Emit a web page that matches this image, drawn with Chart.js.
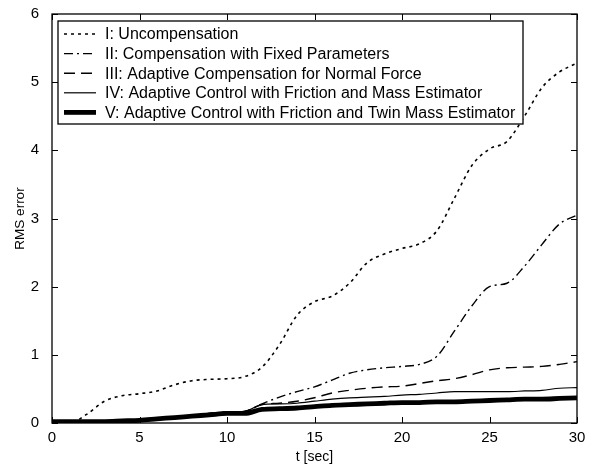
<!DOCTYPE html>
<html><head><meta charset="utf-8">
<script src="https://cdn.jsdelivr.net/npm/chart.js@4.4.1/dist/chart.umd.min.js"></script>
<style>html,body{margin:0;padding:0;background:#fff}#wrap{width:593px;height:468px}</style>
</head><body><div id="wrap"><canvas id="c" width="593" height="468"></canvas></div>
<script>
const timeSec = [0,1,2,3,4,5,6,7,8,9,10,11,12,13,14,15,16,17,18,19,20,21,22,23,24,25,26,27,28,29,30];
const seriesLabels = [
  "I: Uncompensation",
  "II: Compensation with Fixed Parameters",
  "III: Adaptive Compensation for Normal Force",
  "IV: Adaptive Control with Friction and Mass Estimator",
  "V: Adaptive Control with Friction and Twin Mass Estimator"
];
const uncompensation = [0,0,0.13,0.32,0.40,0.43,0.47,0.56,0.62,0.64,0.65,0.68,0.82,1.15,1.58,1.78,1.86,2.05,2.35,2.48,2.56,2.63,2.82,3.30,3.78,4.02,4.13,4.50,4.92,5.15,5.28];
const fixedParams    = [0,0,0.01,0.02,0.02,0.03,0.05,0.08,0.11,0.14,0.16,0.17,0.28,0.38,0.46,0.53,0.63,0.73,0.78,0.81,0.83,0.86,0.98,1.35,1.72,2.00,2.05,2.30,2.62,2.92,3.05];
const normalForce    = [0,0,0.01,0.02,0.02,0.03,0.05,0.08,0.11,0.14,0.16,0.17,0.27,0.29,0.32,0.37,0.44,0.48,0.51,0.53,0.54,0.58,0.62,0.65,0.71,0.78,0.81,0.82,0.83,0.86,0.90];
const massEstimator  = [0,0,0.01,0.02,0.02,0.03,0.05,0.08,0.11,0.14,0.16,0.17,0.27,0.28,0.29,0.32,0.35,0.37,0.38,0.39,0.41,0.42,0.44,0.46,0.46,0.46,0.46,0.47,0.48,0.51,0.52];
const twinMass       = [0.02,0.02,0.02,0.02,0.03,0.04,0.06,0.08,0.10,0.12,0.14,0.14,0.20,0.21,0.22,0.24,0.26,0.27,0.28,0.29,0.30,0.30,0.31,0.31,0.32,0.33,0.34,0.35,0.35,0.36,0.37];
const xTickValues = [0,5,10,15,20,25,30];
const yTickValues = [0,1,2,3,4,5,6];

const FONT = "'Liberation Sans', Arial, sans-serif";
const allSeries = [uncompensation, fixedParams, normalForce, massEstimator, twinMass];
const dashes = [[3,4],[9,4,2,4],[11,6],[],[]];
const widths = [1.6,1.4,1.4,1.2,4.8];

const datasets = allSeries.map((vals,i)=>({
  label: seriesLabels[i],
  data: timeSec.map((t,j)=>({x:t,y:vals[j]})),
  borderColor:'#000', backgroundColor:'#000',
  borderWidth: widths[i], borderDash: dashes[i],
  pointRadius:0, cubicInterpolationMode:'monotone', fill:false
}));

const framePlugin = {
  id:'frame',
  afterDatasetsDraw(chart){
    const {ctx, chartArea:a, scales:{x,y}} = chart;
    ctx.save();
    ctx.strokeStyle='#000'; ctx.lineWidth=1.3; ctx.setLineDash([]);
    ctx.strokeRect(a.left, a.top, a.right-a.left, a.bottom-a.top);
    ctx.lineWidth=1;
    xTickValues.forEach(v=>{
      const px=Math.round(x.getPixelForValue(v))+0.5;
      ctx.beginPath(); ctx.moveTo(px,a.bottom); ctx.lineTo(px,a.bottom-6);
      ctx.moveTo(px,a.top); ctx.lineTo(px,a.top+6); ctx.stroke();
    });
    yTickValues.forEach(v=>{
      const py=Math.round(y.getPixelForValue(v))+0.5;
      ctx.beginPath(); ctx.moveTo(a.left,py); ctx.lineTo(a.left+6,py);
      ctx.moveTo(a.right,py); ctx.lineTo(a.right-6,py); ctx.stroke();
    });
    // legend inside
    const bx=a.left+6, by=a.top+7, bw=465, bh=103;
    ctx.fillStyle='#fff'; ctx.fillRect(bx,by,bw,bh);
    ctx.lineWidth=1.3; ctx.strokeRect(bx,by,bw,bh);
    ctx.font = "16px "+FONT; ctx.textBaseline='middle'; ctx.fillStyle='#000';
    chart.data.datasets.forEach((ds,i)=>{
      const ry = by+13+i*19.6;
      ctx.save();
      ctx.lineWidth=ds.borderWidth; ctx.setLineDash(ds.borderDash);
      ctx.beginPath(); ctx.moveTo(bx+6,ry); ctx.lineTo(bx+38,ry); ctx.stroke();
      ctx.restore();
      ctx.fillText(ds.label, bx+47, ry+1);
    });
    ctx.restore();
  }
};

new Chart(document.getElementById('c'), {
  type:'line',
  data:{datasets},
  options:{
    responsive:false, animation:false,
    layout:{padding:{left:0,top:13,right:16,bottom:0}},
    plugins:{legend:{display:false}, tooltip:{enabled:false}},
    scales:{
      x:{type:'linear', min:0, max:30,
        afterBuildTicks(s){ s.ticks = xTickValues.map(v=>({value:v})); },
        afterFit(s){ s.height=45; },
        grid:{display:false}, border:{display:false},
        ticks:{color:'#000', font:{family:FONT,size:15}, padding:-2, maxRotation:0},
        title:{display:true, text:'t [sec]', color:'#000', font:{family:FONT,size:14}, padding:{top:0,bottom:2}}
      },
      y:{type:'linear', min:0, max:6,
        afterBuildTicks(s){ s.ticks = yTickValues.map(v=>({value:v})); },
        afterFit(s){ s.width=52; },
        grid:{display:false}, border:{display:false},
        ticks:{color:'#000', font:{family:FONT,size:15}, padding:5},
        title:{display:true, text:'RMS error', color:'#000', font:{family:FONT,size:13.5}, padding:{top:12,bottom:0}}
      }
    }
  },
  plugins:[framePlugin]
});
</script></body></html>
